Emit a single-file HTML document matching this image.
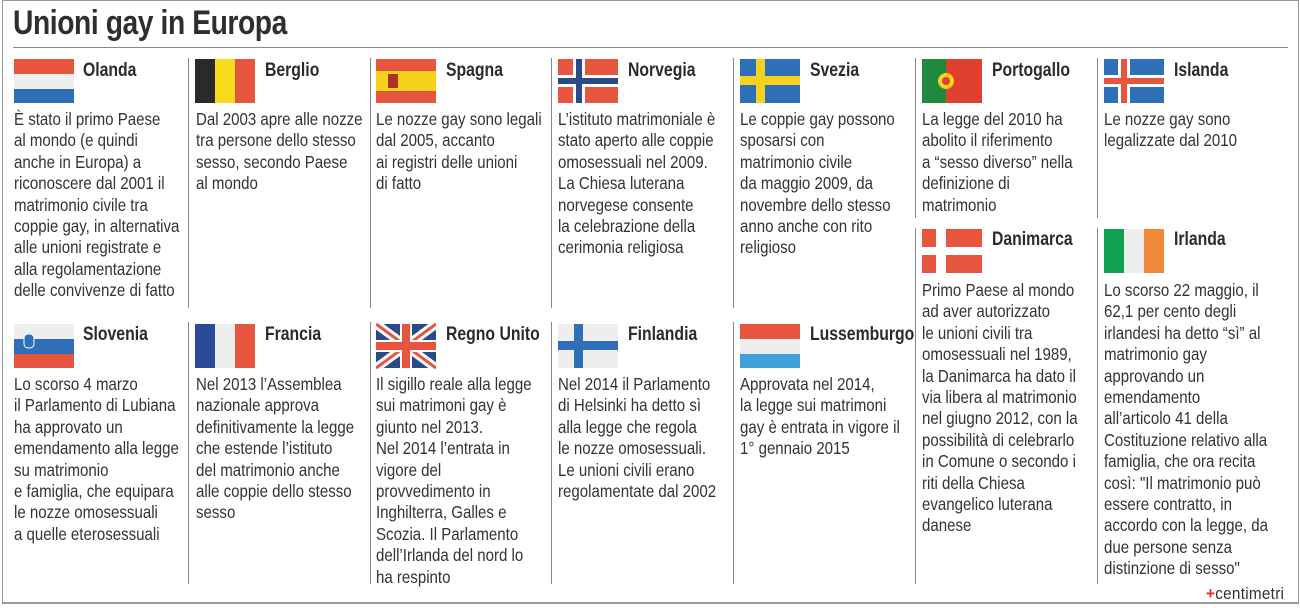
<!DOCTYPE html>
<html><head><meta charset="utf-8"><style>
body{margin:0;width:1300px;height:608px;background:#fff;position:relative;overflow:hidden;font-family:"Liberation Sans",sans-serif;color:#333}
.frame{position:absolute;left:2px;top:0;width:1297px;height:604px;border:1px solid #999;border-bottom:2px solid #999;box-sizing:border-box}
h1{position:absolute;left:13px;top:4px;margin:0;font-size:34px;font-weight:bold;color:#2e2e2e;letter-spacing:-0.5px;transform:scaleX(0.83);transform-origin:left;white-space:nowrap}
.hr{position:absolute;left:13px;top:47px;width:1275px;height:1px;background:#888}
.sep{position:absolute;width:1px;background:#888}
.n{position:absolute;font-weight:bold;font-size:19px;color:#2b2b2b;line-height:22px;transform:scaleX(0.83);transform-origin:left;white-space:nowrap}
.t{position:absolute;font-size:17.5px;line-height:21.4px;white-space:nowrap;color:#333;transform:scaleX(0.86);transform-origin:left top}
svg.f{position:absolute;width:60px;height:48px}
.logo{position:absolute;left:1206px;top:584px;font-size:17px;color:#333;letter-spacing:0.3px;transform:scaleX(0.9);transform-origin:left}
</style></head><body>
<div class="frame"></div>
<h1>Unioni gay in Europa</h1>
<div class="hr"></div>

<div class="sep" style="left:188px;top:58px;height:250px"></div>
<div class="sep" style="left:370px;top:58px;height:250px"></div>
<div class="sep" style="left:551px;top:58px;height:250px"></div>
<div class="sep" style="left:733px;top:58px;height:250px"></div>
<div class="sep" style="left:915px;top:58px;height:160px"></div>
<div class="sep" style="left:1097px;top:58px;height:160px"></div>
<div class="sep" style="left:188px;top:322px;height:262px"></div>
<div class="sep" style="left:370px;top:322px;height:262px"></div>
<div class="sep" style="left:551px;top:322px;height:262px"></div>
<div class="sep" style="left:733px;top:322px;height:262px"></div>
<div class="sep" style="left:915px;top:228px;height:356px"></div>
<div class="sep" style="left:1097px;top:228px;height:356px"></div>

<!-- Row 1 -->
<svg class="f" style="left:14px;top:57px" viewBox="0 0 60 48"><rect y="2" width="60" height="15" fill="#e8553f"/><rect y="17" width="60" height="15" fill="#eee"/><rect y="32" width="60" height="14" fill="#2f6fb7"/></svg>
<div class="n" style="left:83px;top:60px">Olanda</div>
<div class="t" style="left:14px;top:109px">È stato il primo Paese<br>al mondo (e quindi<br>anche in Europa) a<br>riconoscere dal 2001 il<br>matrimonio civile tra<br>coppie gay, in alternativa<br>alle unioni registrate e<br>alla regolamentazione<br>delle convivenze di fatto</div>

<svg class="f" style="left:195px;top:57px" viewBox="0 0 60 48"><rect y="2" width="20" height="44" fill="#2a2a2a"/><rect x="20" y="2" width="20" height="44" fill="#f6dc1a"/><rect x="40" y="2" width="20" height="44" fill="#e8553f"/></svg>
<div class="n" style="left:265px;top:60px">Berglio</div>
<div class="t" style="left:196px;top:109px">Dal 2003 apre alle nozze<br>tra persone dello stesso<br>sesso, secondo Paese<br>al mondo</div>

<svg class="f" style="left:376px;top:57px" viewBox="0 0 60 48"><rect y="2" width="60" height="12" fill="#e8553f"/><rect y="14" width="60" height="20" fill="#f6d21a"/><rect y="34" width="60" height="12" fill="#e8553f"/><rect x="12" y="17" width="10" height="14" fill="#b03020"/></svg>
<div class="n" style="left:446px;top:60px">Spagna</div>
<div class="t" style="left:376px;top:109px">Le nozze gay sono legali<br>dal 2005, accanto<br>ai registri delle unioni<br>di fatto</div>

<svg class="f" style="left:558px;top:57px" viewBox="0 0 60 48"><rect y="2" width="60" height="44" fill="#e8553f"/><rect x="15" y="2" width="12" height="44" fill="#fff"/><rect y="18" width="60" height="12" fill="#fff"/><rect x="18" y="2" width="6" height="44" fill="#2c4a86"/><rect y="21" width="60" height="6" fill="#2c4a86"/></svg>
<div class="n" style="left:628px;top:60px">Norvegia</div>
<div class="t" style="left:558px;top:109px">L’istituto matrimoniale è<br>stato aperto alle coppie<br>omosessuali nel 2009.<br>La Chiesa luterana<br>norvegese consente<br>la celebrazione della<br>cerimonia religiosa</div>

<svg class="f" style="left:740px;top:57px" viewBox="0 0 60 48"><rect y="2" width="60" height="44" fill="#2f6fb7"/><rect x="16" y="2" width="9" height="44" fill="#f6d21a"/><rect y="19" width="60" height="9" fill="#f6d21a"/></svg>
<div class="n" style="left:810px;top:60px">Svezia</div>
<div class="t" style="left:740px;top:109px">Le coppie gay possono<br>sposarsi con<br>matrimonio civile<br>da maggio 2009, da<br>novembre dello stesso<br>anno anche con rito<br>religioso</div>

<svg class="f" style="left:922px;top:57px" viewBox="0 0 60 48"><rect y="2" width="24" height="44" fill="#1f8a3e"/><rect x="24" y="2" width="36" height="44" fill="#e04030"/><circle cx="24" cy="24" r="8" fill="#f6d21a"/><circle cx="24" cy="24" r="4" fill="#e04030"/></svg>
<div class="n" style="left:992px;top:60px">Portogallo</div>
<div class="t" style="left:922px;top:109px">La legge del 2010 ha<br>abolito il riferimento<br>a “sesso diverso” nella<br>definizione di<br>matrimonio</div>

<svg class="f" style="left:1104px;top:57px" viewBox="0 0 60 48"><rect y="2" width="60" height="44" fill="#2f6fb7"/><rect x="14" y="2" width="12" height="44" fill="#fff"/><rect y="18" width="60" height="12" fill="#fff"/><rect x="17" y="2" width="6" height="44" fill="#e8553f"/><rect y="21" width="60" height="6" fill="#e8553f"/></svg>
<div class="n" style="left:1174px;top:60px">Islanda</div>
<div class="t" style="left:1104px;top:109px">Le nozze gay sono<br>legalizzate dal 2010</div>

<!-- Danimarca / Irlanda -->
<svg class="f" style="left:922px;top:227px" viewBox="0 0 60 48"><rect y="2" width="60" height="44" fill="#e8553f"/><rect x="14" y="2" width="10" height="44" fill="#fff"/><rect y="20" width="60" height="8" fill="#fff"/></svg>
<div class="n" style="left:992px;top:229px">Danimarca</div>
<div class="t" style="left:922px;top:280px">Primo Paese al mondo<br>ad aver autorizzato<br>le unioni civili tra<br>omosessuali nel 1989,<br>la Danimarca ha dato il<br>via libera al matrimonio<br>nel giugno 2012, con la<br>possibilità di celebrarlo<br>in Comune o secondo i<br>riti della Chiesa<br>evangelico luterana<br>danese</div>

<svg class="f" style="left:1104px;top:227px" viewBox="0 0 60 48"><rect y="2" width="20" height="44" fill="#11a050"/><rect x="20" y="2" width="20" height="44" fill="#eee"/><rect x="40" y="2" width="20" height="44" fill="#f08a3a"/></svg>
<div class="n" style="left:1174px;top:229px">Irlanda</div>
<div class="t" style="left:1104px;top:280px">Lo scorso 22 maggio, il<br>62,1 per cento degli<br>irlandesi ha detto “sì” al<br>matrimonio gay<br>approvando un<br>emendamento<br>all’articolo 41 della<br>Costituzione relativo alla<br>famiglia, che ora recita<br>così: "Il matrimonio può<br>essere contratto, in<br>accordo con la legge, da<br>due persone senza<br>distinzione di sesso"</div>

<!-- Row 2 -->
<svg class="f" style="left:14px;top:322px" viewBox="0 0 60 48"><rect y="2" width="60" height="15" fill="#eee"/><rect y="17" width="60" height="15" fill="#2f6fb7"/><rect y="32" width="60" height="14" fill="#e8553f"/><rect x="10" y="12" width="10" height="14" rx="4" fill="#2f6fb7" stroke="#fff"/></svg>
<div class="n" style="left:83px;top:324px">Slovenia</div>
<div class="t" style="left:14px;top:374px">Lo scorso 4 marzo<br>il Parlamento di Lubiana<br>ha approvato un<br>emendamento alla legge<br>su matrimonio<br>e famiglia, che equipara<br>le nozze omosessuali<br>a quelle eterosessuali</div>

<svg class="f" style="left:195px;top:322px" viewBox="0 0 60 48"><rect y="2" width="20" height="44" fill="#2c4a9a"/><rect x="20" y="2" width="20" height="44" fill="#eee"/><rect x="40" y="2" width="20" height="44" fill="#e8553f"/></svg>
<div class="n" style="left:265px;top:324px">Francia</div>
<div class="t" style="left:196px;top:374px">Nel 2013 l’Assemblea<br>nazionale approva<br>definitivamente la legge<br>che estende l’istituto<br>del matrimonio anche<br>alle coppie dello stesso<br>sesso</div>

<svg class="f" style="left:376px;top:322px" viewBox="0 0 60 48"><rect y="2" width="60" height="44" fill="#2c4a86"/><path d="M0 2L60 46M60 2L0 46" stroke="#fff" stroke-width="9"/><path d="M0 2L60 46M60 2L0 46" stroke="#e8553f" stroke-width="3"/><rect x="24" y="2" width="12" height="44" fill="#fff"/><rect y="18" width="60" height="12" fill="#fff"/><rect x="26" y="2" width="8" height="44" fill="#e8553f"/><rect y="20" width="60" height="8" fill="#e8553f"/></svg>
<div class="n" style="left:446px;top:324px">Regno Unito</div>
<div class="t" style="left:376px;top:374px">Il sigillo reale alla legge<br>sui matrimoni gay è<br>giunto nel 2013.<br>Nel 2014 l’entrata in<br>vigore del<br>provvedimento in<br>Inghilterra, Galles e<br>Scozia. Il Parlamento<br>dell’Irlanda del nord lo<br>ha respinto</div>

<svg class="f" style="left:558px;top:322px" viewBox="0 0 60 48"><rect y="2" width="60" height="44" fill="#eee"/><rect x="16" y="2" width="9" height="44" fill="#2f6fb7"/><rect y="19" width="60" height="9" fill="#2f6fb7"/></svg>
<div class="n" style="left:628px;top:324px">Finlandia</div>
<div class="t" style="left:558px;top:374px">Nel 2014 il Parlamento<br>di Helsinki ha detto sì<br>alla legge che regola<br>le nozze omosessuali.<br>Le unioni civili erano<br>regolamentate dal 2002</div>

<svg class="f" style="left:740px;top:322px" viewBox="0 0 60 48"><rect y="2" width="60" height="15" fill="#e8553f"/><rect y="17" width="60" height="15" fill="#eee"/><rect y="32" width="60" height="14" fill="#3fa0dd"/></svg>
<div class="n" style="left:810px;top:324px">Lussemburgo</div>
<div class="t" style="left:740px;top:374px">Approvata nel 2014,<br>la legge sui matrimoni<br>gay è entrata in vigore il<br>1° gennaio 2015</div>

<div class="logo"><span style="color:#e03020;font-weight:bold">+</span>centimetri</div>
</body></html>
